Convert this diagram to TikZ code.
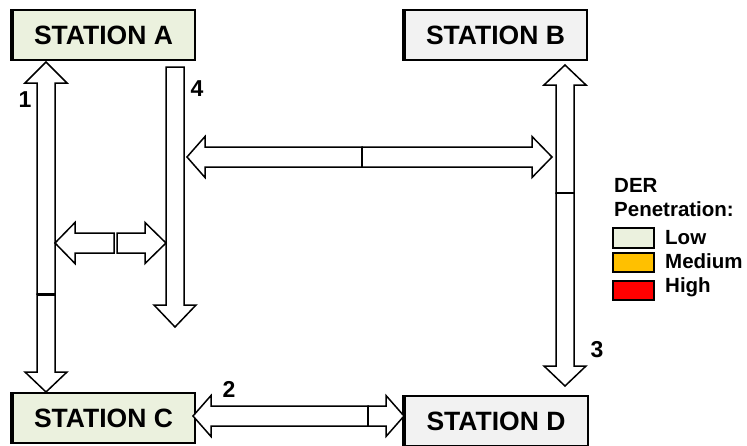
\documentclass[tikz,border=0pt]{standalone}
\usepackage{fontspec}
\setmainfont{Liberation Sans}
\definecolor{lowgreen}{HTML}{EBF1DE}
\definecolor{stationgray}{HTML}{F2F2F2}
\definecolor{medorange}{HTML}{FFC000}
\definecolor{highred}{HTML}{FF0000}

% vertical block arrow: #1 centre x, #2 tail y, #3 head base y, #4 tip y
\newcommand{\vblock}[4]{%
  \draw[blockarrow] (#1-9,#2) -- (#1-9,#3) -- (#1-21,#3) -- (#1,#4)
    -- (#1+21,#3) -- (#1+9,#3) -- (#1+9,#2) -- cycle;}
% horizontal block arrow: #1 centre y, #2 tail x, #3 head base x, #4 tip x
\newcommand{\hblock}[4]{%
  \draw[blockarrow] (#2,#1-10) -- (#3,#1-10) -- (#3,#1-20.5) -- (#4,#1)
    -- (#3,#1+20.5) -- (#3,#1+10) -- (#2,#1+10) -- cycle;}

\tikzset{
  blockarrow/.style={draw=black, line width=1.5pt, fill=white, line join=miter},
  station/.style={draw=black, line width=1.5pt, minimum width=183pt,
    minimum height=50pt, inner sep=0pt,
    font=\bfseries\fontsize{26.5}{30}\selectfont},
  edge/.style={line width=4pt},
  divider/.style={line width=3pt},
  num/.style={font=\bfseries\fontsize{23}{26}\selectfont, inner sep=0pt},
  legendtxt/.style={font=\bfseries\fontsize{20.5}{24}\selectfont, inner sep=0pt, anchor=base west},
  legendbox/.style={draw=black, line width=1.5pt}
}

\begin{document}
\begin{tikzpicture}[x=1pt,y=-1pt]
\clip (0,0) rectangle (747,445);
\fill[white] (0,0) rectangle (747,445);

% stations
\node[station, fill=lowgreen]    (staA) at (103.5,35)  {STATION A};
\node[station, fill=stationgray] (staB) at (495.5,35)  {STATION B};
\node[station, fill=lowgreen]    (staC) at (103.5,418) {STATION C};
\node[station, fill=stationgray, minimum width=184pt] (staD) at (496,421) {STATION D};
\foreach \s in {staA,staB,staC,staD}
  \draw[edge] ([xshift=1pt]\s.north west) -- ([xshift=1pt]\s.south west);

% link 1: A <-> C
\vblock{46}{294}{83}{62}
\vblock{46}{294}{372}{392}
\draw[divider] (37,294) -- (55,294);

% link 4
\vblock{175}{67}{305}{327}

% link between 1 and 4
\hblock{243}{114}{75}{55}
\hblock{243}{117}{145}{166}

% link between 4 and 3
\hblock{157}{362}{205}{187}
\hblock{157}{362}{532}{552}
\draw[line width=2pt] (362,147) -- (362,167);

% link 3: B <-> D
\vblock{565}{193}{85}{65}
\vblock{565}{193}{366}{386}
\draw[line width=2pt] (556,193) -- (574,193);

% link 2: C <-> D
\hblock{416}{368}{211}{193}
\hblock{416}{368}{386}{404}
\draw[line width=2pt] (368,406) -- (368,426);

% link numbers
\node[num] (n1) at (25,100) {1};
\node[num] (n4) at (197,89) {4};
\node[num] (n3) at (597,350) {3};
\node[num] (n2) at (229,389) {2};

% legend
\node[legendtxt] (lgA) at (614,192) {DER};
\node[legendtxt] (lgB) at (614,216) {Penetration:};
\draw[legendbox, fill=lowgreen]  (613,228) rectangle (654,248);
\draw[legendbox, fill=medorange] (613,253) rectangle (654,272);
\draw[legendbox, fill=highred]   (613,281) rectangle (654,300);
\node[legendtxt] (lgLow) at (665,244) {Low};
\node[legendtxt] (lgMed) at (665,268) {Medium};
\node[legendtxt] (lgHigh) at (665,292) {High};
\end{tikzpicture}
\end{document}
